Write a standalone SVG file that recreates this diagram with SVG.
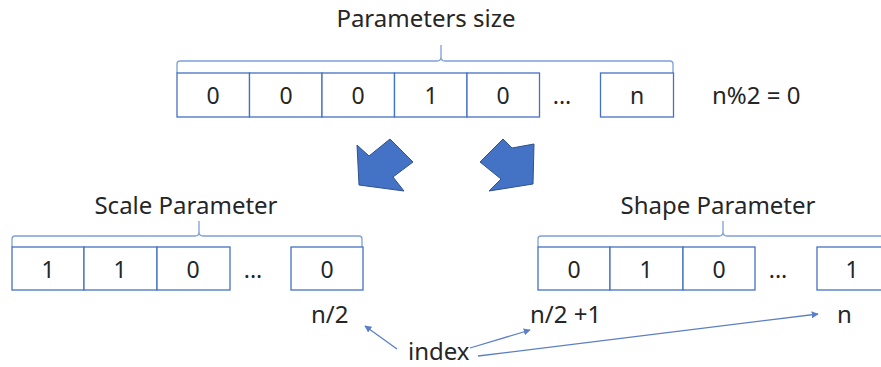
<svg xmlns="http://www.w3.org/2000/svg" width="881" height="367" viewBox="0 0 881 367">
<style>
text{font-family:"Noto Sans","Open Sans","DejaVu Sans",sans-serif;fill:#262626}
.t{font-size:24px}
.d{font-size:23px;text-anchor:middle}
.cell{fill:#fff;stroke:#4472C4;stroke-width:1.3}
.brace{fill:none;stroke:#7F9FD8;stroke-width:1.3}
.big{fill:#4472C4;stroke:#2F528F;stroke-width:1}
.conn{fill:none;stroke:#5B7FC7;stroke-width:1.3}
</style>
<defs>
<marker id="ah" viewBox="0 0 10 10" refX="9" refY="5" markerWidth="7" markerHeight="7" orient="auto" markerUnits="userSpaceOnUse">
<path d="M0,0 L10,5 L0,10 Z" fill="#5B7FC7"/>
</marker>
</defs>
<g id="top-array">
<text class="t" x="426" y="27" text-anchor="middle">Parameters size</text>
<path class="brace" d="M177 73 V64 Q177 61 180 61 H437 Q441 61 441 57 V45 M441 57 Q441 61 445 61 H670 Q673 61 673 64 V73"/>
<rect class="cell" x="177" y="73" width="72.5" height="44"/>
<rect class="cell" x="249.5" y="73" width="72.5" height="44"/>
<rect class="cell" x="322" y="73" width="72.5" height="44"/>
<rect class="cell" x="394.5" y="73" width="72.5" height="44"/>
<rect class="cell" x="467" y="73" width="72.5" height="44"/>
<rect class="cell" x="600.5" y="73" width="73" height="44"/>
<text class="d" x="213" y="104">0</text>
<text class="d" x="286" y="104">0</text>
<text class="d" x="358" y="104">0</text>
<text class="d" x="431" y="104">1</text>
<text class="d" x="503" y="104">0</text>
<text class="d" x="562" y="104">...</text>
<text class="d" x="637" y="104">n</text>
<text class="t" x="712" y="104">n%2 = 0</text>
</g>
<g id="split-arrows">
<polygon class="big" points="357,145 369,156 390,139 413,162 393,177 404,191 359,185"/>
<polygon class="big" points="534,144 512,148 503,139 480,162 501,179 489,191 533,184"/>
</g>
<g id="scale-array">
<text class="t" x="186" y="214" text-anchor="middle">Scale Parameter</text>
<path class="brace" d="M12 247 V239 Q12 236 15 236 H195 Q199 236 199 232 V221 M199 232 Q199 236 203 236 H359 Q362 236 362 239 V247"/>
<rect class="cell" x="12" y="247" width="72" height="43"/>
<rect class="cell" x="84" y="247" width="73" height="43"/>
<rect class="cell" x="157" y="247" width="73" height="43"/>
<rect class="cell" x="291" y="247" width="72" height="43"/>
<text class="d" x="48" y="278">1</text>
<text class="d" x="120" y="278">1</text>
<text class="d" x="193" y="278">0</text>
<text class="d" x="253" y="278">...</text>
<text class="d" x="327" y="278">0</text>
</g>
<g id="shape-array">
<text class="t" x="718" y="214" text-anchor="middle">Shape Parameter</text>
<path class="brace" d="M538 247 V239 Q538 236 541 236 H719 Q723 236 723 232 V221 M723 232 Q723 236 727 236 H895"/>
<rect class="cell" x="538" y="247" width="72" height="43"/>
<rect class="cell" x="610" y="247" width="73" height="43"/>
<rect class="cell" x="683" y="247" width="72" height="43"/>
<rect class="cell" x="817" y="247" width="80" height="43"/>
<text class="d" x="574" y="278">0</text>
<text class="d" x="646" y="278">1</text>
<text class="d" x="719" y="278">0</text>
<text class="d" x="778" y="278">...</text>
<text class="d" x="852" y="278">1</text>
</g>
<g id="labels">
<text class="t" x="311" y="323">n/2</text>
<text class="t" x="530" y="323">n/2 +1</text>
<text class="t" x="837" y="323">n</text>
<text class="t" x="408" y="360">index</text>
</g>
<g id="connectors">
<line class="conn" x1="397" y1="349" x2="365" y2="326" marker-end="url(#ah)"/>
<line class="conn" x1="470" y1="348" x2="530" y2="330" marker-end="url(#ah)"/>
<line class="conn" x1="478" y1="356" x2="818" y2="314" marker-end="url(#ah)"/>
</g>
</svg>
